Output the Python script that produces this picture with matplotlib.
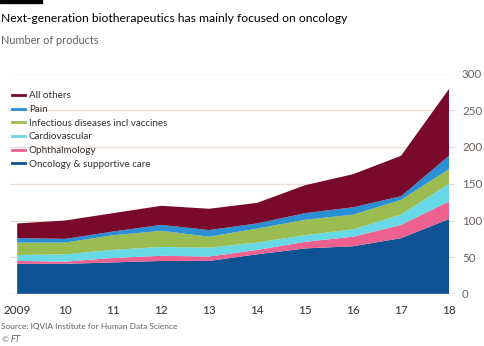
import matplotlib
matplotlib.use('Agg')
import matplotlib.pyplot as plt
from matplotlib.lines import Line2D
from matplotlib.patches import Rectangle

# Data (number of products)
years = [2009, 2010, 2011, 2012, 2013, 2014, 2015, 2016, 2017, 2018]
year_labels = ['2009', '10', '11', '12', '13', '14', '15', '16', '17', '18']
oncology = [41, 41, 43, 45, 45, 54, 62, 65, 76, 102]
ophthalmology = [4, 3, 6, 7, 6, 6, 9, 13, 18, 24]
cardiovascular = [8, 10, 11, 12, 12, 10, 9, 10, 14, 24]
infectious = [17, 16, 20, 22, 15, 19, 21, 20, 20, 20]
pain = [6, 5, 5, 8, 9, 7, 9, 10, 5, 18]
others = [20, 25, 25, 26, 29, 28, 38, 45, 55, 91]

labels = ['Oncology & supportive care', 'Ophthalmology', 'Cardiovascular',
          'Infectious diseases incl vaccines', 'Pain', 'All others']
colors = ['#0f5294', '#ec6190', '#67d8e6', '#9bbc50', '#2a8fd4', '#7a0a2c']

plt.rcParams['font.family'] = ['Lato', 'DejaVu Sans']

fig = plt.figure(figsize=(4.85, 3.46), dpi=100)
fig.patch.set_facecolor('white')
ax = fig.add_axes([10/485, 1 - 294/346, 445/485, (294 - 73.5)/346])

ax.stackplot(years, oncology, ophthalmology, cardiovascular, infectious, pain, others,
             colors=colors, linewidth=0, zorder=2)

ax.set_xlim(2008.85, 2018.125)
ax.set_ylim(0, 300)
ax.set_yticks([0, 50, 100, 150, 200, 250, 300])
ax.yaxis.tick_right()
ax.grid(axis='y', color='#e6dcd3', linewidth=0.9, zorder=1)
ax.axhline(0, color='#c9c0b8', linewidth=1.0, zorder=3)
ax.tick_params(axis='y', length=0, pad=5, labelsize=8.3, labelcolor='#66605c')
ax.set_xticks(years)
ax.set_xticklabels(year_labels)
ax.tick_params(axis='x', length=0, pad=8, labelsize=8.5, labelcolor='#33302e')
for s in ax.spines.values():
    s.set_visible(False)

# legend, top-left, in reversed order
handles = [Line2D([0], [0], color=c, lw=2) for c in colors][::-1]
fig.legend(handles, labels[::-1], loc='upper left', bbox_to_anchor=(12/485, 1 - 91.5/346),
           frameon=False, fontsize=7.1, labelcolor='#33302e', handlelength=1.3,
           handletextpad=0.4, labelspacing=0.47, borderpad=0, borderaxespad=0)

# titles and source
fig.text(1/485, 1 - 18/346, 'Next-generation biotherapeutics has mainly focused on oncology',
         fontsize=8.75, color='#000000', va='center', ha='left')
fig.text(1/485, 1 - 41/346, 'Number of products', fontsize=7.8, color='#66605c',
         va='center', ha='left')
fig.text(1/485, 1 - 327/346, 'Source: IQVIA Institute for Human Data Science',
         fontsize=6.0, color='#66605c', va='center', ha='left')
fig.text(1/485, 1 - 338/346, '© $\\it{FT}$', fontsize=6.0, color='#66605c',
         va='center', ha='left')
fig.patches.append(Rectangle((0, 1 - 3/346), 42/485, 3/346, transform=fig.transFigure,
                             color='black', zorder=5))

fig.savefig('out.png', dpi=100)
